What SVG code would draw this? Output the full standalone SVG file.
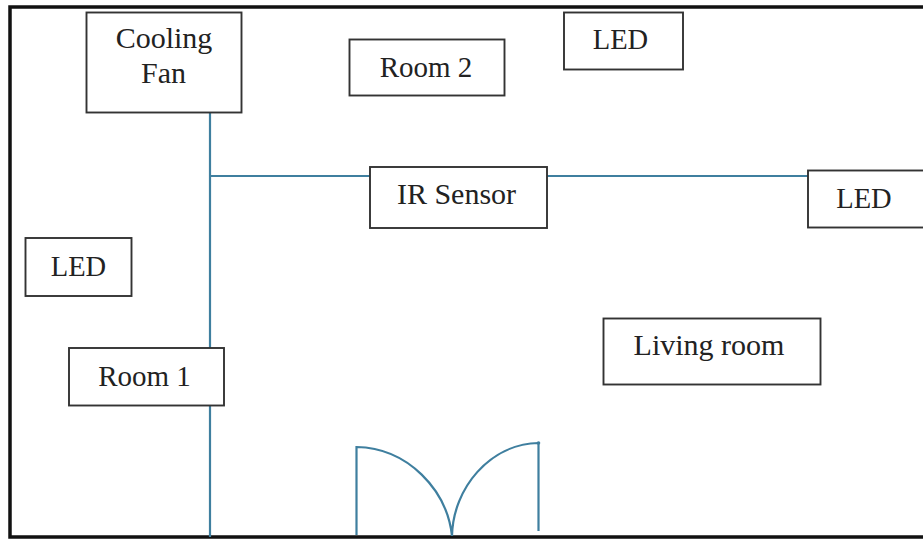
<svg xmlns="http://www.w3.org/2000/svg" width="923" height="539" viewBox="0 0 923 539">
<style>
.n{fill:#fff;stroke:#333;stroke-width:1.9}
.t{font-family:"Liberation Serif",serif;font-size:30px;fill:#222;text-anchor:middle}
.s{font-size:28.500px}
.r{font-size:29px}
.c{fill:none;stroke:#3f7f9f;stroke-width:2.200}
</style>
<rect width="923" height="539" fill="#fff"/>
<path d="M923 7H10V537H923" fill="none" stroke="#111" stroke-width="3.500"/>
<g id="connectors">
<path class="c" d="M210 112V537M210 176H370M547 176H808"/>
<path class="c" d="M356.500 535V447C408 448 447 490 452 536C453 488 490 444 538.500 443V531"/>
<circle cx="538.500" cy="443" r="1.800" fill="#3f7f9f"/>
</g>
<g id="cooling-fan"><rect class="n" x="86.500" y="12.500" width="155" height="100"/><text class="t" x="164" y="48">Cooling</text><text class="t" x="163.500" y="83">Fan</text></g>
<g id="room-2"><rect class="n" x="349.500" y="39.500" width="155" height="56"/><text class="t r" x="426" y="77">Room 2</text></g>
<g id="led-top"><rect class="n" x="564" y="12.500" width="119" height="57"/><text class="t s" x="620.500" y="49">LED</text></g>
<g id="ir-sensor"><rect class="n" x="370" y="167" width="177" height="61"/><text class="t" x="456.500" y="204">IR Sensor</text></g>
<g id="led-right"><rect class="n" x="808" y="170.500" width="125" height="57"/><text class="t s" x="864" y="208">LED</text></g>
<g id="led-left"><rect class="n" x="25.500" y="238" width="106" height="58"/><text class="t s" x="78.500" y="276">LED</text></g>
<g id="room-1"><rect class="n" x="69" y="348" width="155" height="57.500"/><text class="t r" x="144.500" y="386">Room 1</text></g>
<g id="living-room"><rect class="n" x="603.500" y="318.500" width="217" height="66"/><text class="t" x="709" y="355">Living room</text></g>
</svg>
